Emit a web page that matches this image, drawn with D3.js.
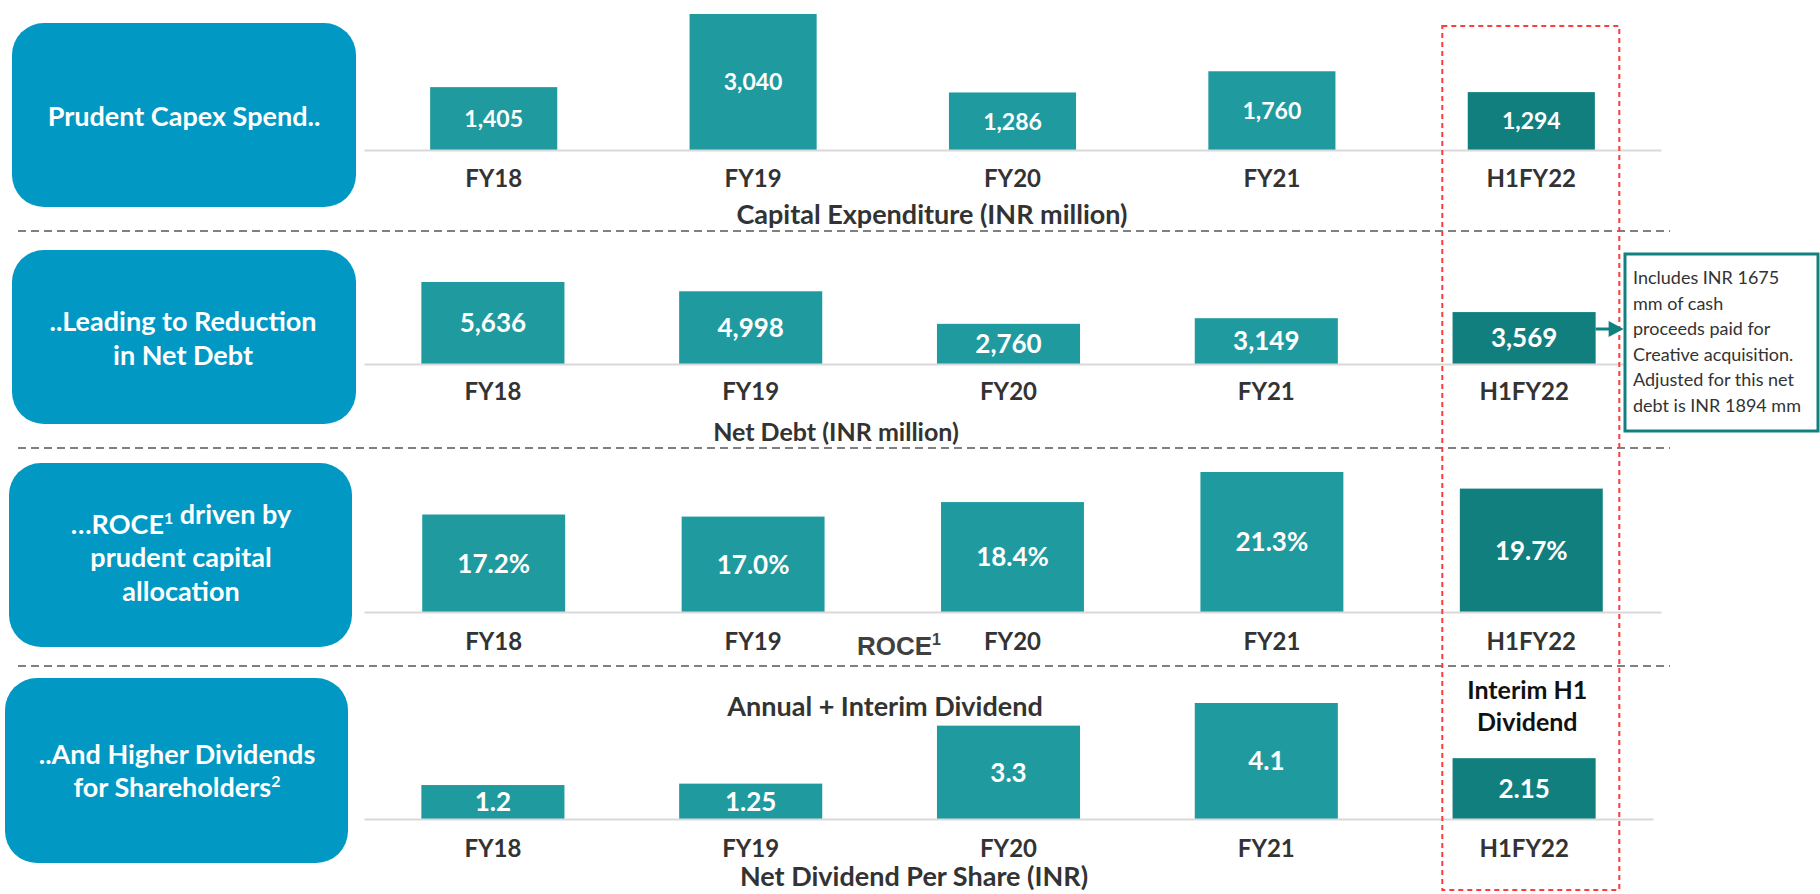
<!DOCTYPE html>
<html>
<head>
    <meta charset="utf-8">
    <title>Capital allocation | Capex, Net Debt, ROCE, Dividends</title>
    <script src="https://d3js.org/d3.v7.min.js"></script>
    <style>
        body {
            margin: 0;
            background: #fff;
        }
        svg text {
            font-family: Lato, "Open Sans", sans-serif;
        }
        .cat text {
            font-size: 24px;
            font-weight: bold;
            fill: #333;
        }
        .val {
            font-weight: bold;
            fill: #fff;
        }
        .box-text {
            font-size: 27px;
            font-weight: bold;
            fill: #fff;
        }
        .subtitle {
            font-weight: bold;
            fill: #333;
        }
        .note {
            font-size: 18px;
            fill: #333;
        }
    </style>
</head>
<body>
    <svg id="chart" width="1820" height="894"></svg>

    <script>
        // Data
        const categories = ["FY18", "FY19", "FY20", "FY21", "H1FY22"];
        const capexValues = [1405, 3040, 1286, 1760, 1294];
        const netDebtValues = [5636, 4998, 2760, 3149, 3569];
        const roceValues = [17.2, 17.0, 18.4, 21.3, 19.7];
        const dividendValues = [1.2, 1.25, 3.3, 4.1, 2.15];

        const boxTexts = [
            [[["Prudent Capex Spend..", false]]],
            [[["..Leading to Reduction", false]], [["in Net Debt", false]]],
            [[["\u2026ROCE", false], ["1", true], [" driven by", false]], [["prudent capital", false]], [["allocation", false]]],
            [[["..And Higher Dividends", false]], [["for Shareholders", false], ["2", true]]]
        ];
        const subtitles = ["Capital Expenditure (INR million)", "Net Debt (INR million)", null, "Net Dividend Per Share (INR)"];
        const noteLines = [
            "Includes INR 1675",
            "mm of cash",
            "proceeds paid for",
            "Creative acquisition.",
            "Adjusted for this net",
            "debt is INR 1894 mm"
        ];

        const highlight = "H1FY22";
        const barColor = "#1f9ba0";
        const barDark = "#127f7f";
        const boxColor = "#0198c4";

        // layout of each strip
        const panels = [
            { values: capexValues, fmt: d3.format(","), yDomain: [0, 3040], base: 150, top: 14,
              xRange: [364, 1661], pad: 0.51, valSize: 23, tickPad: 20,
              box: [12, 23, 344, 184], boxX: 184, boxY: [117], sub: [932, 215], subSize: 27 },
            { values: netDebtValues, fmt: d3.format(","), yDomain: [0, 5636], base: 364, top: 282,
              xRange: [364, 1653], pad: 0.445, valSize: 26, tickPad: 19,
              box: [12, 250, 344, 174], boxX: 183, boxY: [322, 356], sub: [836, 432], subSize: 25 },
            { values: roceValues, fmt: d => d.toFixed(1) + "%", yDomain: [7.8, 21.3], base: 612, top: 472,
              xRange: [364, 1661], pad: 0.449, valSize: 26, tickPad: 21,
              box: [9, 463, 343, 184], boxX: 181, boxY: [525, 558, 592], sub: null },
            { values: dividendValues, fmt: d => String(d), yDomain: [0, 4.1], base: 819, top: 703,
              xRange: [364, 1653], pad: 0.445, valSize: 26, tickPad: 21,
              box: [5, 678, 343, 185], boxX: 177, boxY: [755, 788], sub: [914, 877], subSize: 27 }
        ];

        const svg = d3.select("#chart");
        const xScales = [];

        // dashed separators
        svg.selectAll("line.sep")
            .data([231, 448, 666])
            .join("line")
            .attr("class", "sep")
            .attr("x1", 18).attr("x2", 1670)
            .attr("y1", d => d).attr("y2", d => d)
            .attr("stroke", "#808080")
            .attr("stroke-width", 2)
            .attr("stroke-dasharray", "8,5");

        panels.forEach((p, pi) => {
            const g = svg.append("g");
            const rows = categories.map((c, i) => ({ cat: c, value: p.values[i] }));

            const x = d3.scaleBand()
                .domain(categories)
                .range(p.xRange)
                .paddingInner(p.pad)
                .paddingOuter(p.pad / 2);
            xScales.push(x);

            const y = d3.scaleLinear()
                .domain(p.yDomain)
                .range([p.base, p.top]);

            // rounded label box on the left
            g.append("rect")
                .attr("x", p.box[0]).attr("y", p.box[1])
                .attr("width", p.box[2]).attr("height", p.box[3])
                .attr("rx", 32).attr("ry", 32)
                .attr("fill", boxColor);

            boxTexts[pi].forEach((line, li) => {
                const t = g.append("text")
                    .attr("class", "box-text")
                    .attr("text-anchor", "middle")
                    .attr("x", p.boxX)
                    .attr("y", p.boxY[li] + 9);
                line.forEach(([str, sup]) => {
                    if (sup) {
                        t.append("tspan").attr("dy", -10).attr("font-size", 16).text(str);
                        t.append("tspan").attr("dy", 10).text("");
                    } else {
                        t.append("tspan").text(str);
                    }
                });
            });

            // bars
            g.selectAll("rect.bar")
                .data(rows)
                .join("rect")
                .attr("class", "bar")
                .attr("x", d => x(d.cat))
                .attr("y", d => y(d.value))
                .attr("width", x.bandwidth())
                .attr("height", d => p.base - y(d.value))
                .attr("fill", d => d.cat === highlight ? barDark : barColor);

            // value labels centred in the bars
            g.selectAll("text.val")
                .data(rows)
                .join("text")
                .attr("class", "val")
                .attr("text-anchor", "middle")
                .attr("font-size", p.valSize)
                .attr("x", d => x(d.cat) + x.bandwidth() / 2)
                .attr("y", d => (y(d.value) + p.base) / 2 + p.valSize * 0.36)
                .text(d => p.fmt(d.value));

            // baseline + category labels
            const axis = g.append("g")
                .attr("class", "cat")
                .attr("transform", `translate(0,${p.base})`)
                .call(d3.axisBottom(x).tickSize(0).tickSizeOuter(0).tickPadding(p.tickPad));
            axis.attr("font-family", null).attr("font-size", null);
            axis.select(".domain")
                .attr("stroke", "#d9d9d9")
                .attr("stroke-width", 2);

            if (subtitles[pi]) {
                g.append("text")
                    .attr("class", "subtitle")
                    .attr("text-anchor", "middle")
                    .attr("font-size", p.subSize)
                    .attr("x", p.sub[0])
                    .attr("y", p.sub[1] + 9)
                    .text(subtitles[pi]);
            }
        });

        // ROCE title in the third strip
        const roceTitle = svg.append("text")
            .attr("x", 899).attr("y", 655)
            .attr("text-anchor", "middle")
            .style("font-family", "'Liberation Sans', Arial, sans-serif")
            .attr("font-size", 26)
            .attr("font-weight", "bold")
            .attr("fill", "#404040");
        roceTitle.append("tspan").text("ROCE");
        roceTitle.append("tspan").attr("dy", -10).attr("font-size", 16).text("1");

        // dividend annotations
        svg.append("text")
            .attr("class", "subtitle")
            .attr("text-anchor", "middle")
            .attr("font-size", 27)
            .attr("x", 885).attr("y", 716)
            .text("Annual + Interim Dividend");

        const xLast = xScales[0](highlight) + xScales[0].bandwidth() / 2;
        svg.selectAll("text.interim")
            .data(["Interim H1", "Dividend"])
            .join("text")
            .attr("class", "subtitle interim")
            .attr("text-anchor", "middle")
            .attr("font-size", 25)
            .style("fill", "#111")
            .attr("x", xLast - 4)
            .attr("y", (d, i) => 699 + i * 32)
            .text(d => d);

        // red dashed highlight around H1FY22
        svg.append("rect")
            .attr("x", xLast - 89).attr("y", 26)
            .attr("width", 177).attr("height", 864)
            .attr("fill", "none")
            .attr("stroke", "#ff3b3b")
            .attr("stroke-width", 2)
            .attr("stroke-dasharray", "5,4");

        // callout for net debt
        const x2 = xScales[1];
        const arrowX = x2(highlight) + x2.bandwidth();
        const arrowY = 329;
        svg.append("line")
            .attr("x1", arrowX).attr("x2", arrowX + 15)
            .attr("y1", arrowY).attr("y2", arrowY)
            .attr("stroke", "#138080").attr("stroke-width", 3);
        svg.append("path")
            .attr("d", `M${arrowX + 13},${arrowY - 8} L${arrowX + 28},${arrowY} L${arrowX + 13},${arrowY + 8} Z`)
            .attr("fill", "#138080");

        svg.append("rect")
            .attr("x", 1625).attr("y", 254)
            .attr("width", 193).attr("height", 177)
            .attr("fill", "#fff")
            .attr("stroke", "#138080")
            .attr("stroke-width", 3);

        svg.selectAll("text.note")
            .data(noteLines)
            .join("text")
            .attr("class", "note")
            .attr("x", 1633)
            .attr("y", (d, i) => 284 + i * 25.6)
            .text(d => d);
    </script>
</body>
</html>
